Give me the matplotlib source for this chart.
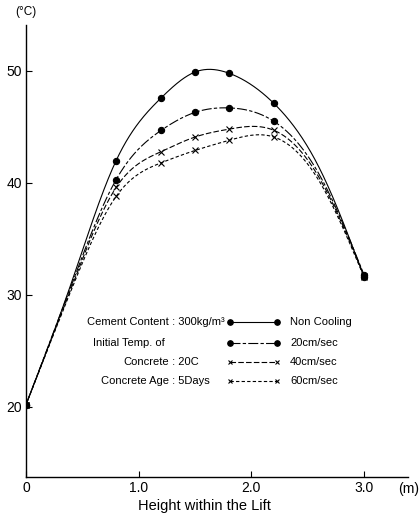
import numpy as np
import matplotlib
matplotlib.use("Agg")
import matplotlib.pyplot as plt
from matplotlib.lines import Line2D

# measured heights (m) and temperatures (deg C)
height = [0.0, 0.8, 1.2, 1.5, 1.8, 2.2, 3.0]
temp_non_cooling = [20.2, 42.0, 47.6, 49.9, 49.8, 47.1, 31.6]
temp_20cm = [20.2, 40.3, 44.7, 46.3, 46.7, 45.5, 31.8]
temp_40cm = [20.2, 39.6, 42.8, 44.1, 44.8, 44.7, 31.7]
temp_60cm = [20.2, 38.8, 41.8, 42.9, 43.8, 44.1, 31.6]

# extra points (no markers there)
shape_height = [0.4, 2.6]
shape_non_cooling = [31.0, 41.4]
shape_20cm = [30.8, 40.8]
shape_40cm = [30.6, 40.5]
shape_60cm = [30.4, 40.2]

series_labels = ["Non Cooling", "20cm/sec", "40cm/sec", "60cm/sec"]
notes = [("Cement Content", " : 300kg/m³"), ("Initial Temp. of", ""),
         ("Concrete", " : 20C"), ("Concrete Age", " : 5Days")]

plt.rcParams['font.family'] = ['Liberation Sans', 'DejaVu Sans']


def natural_spline(x, y, xs):
    # plain natural cubic spline, just to draw smooth curves through the readings
    x = np.asarray(x, float)
    y = np.asarray(y, float)
    n = len(x)
    h = np.diff(x)
    A = np.zeros((n, n))
    b = np.zeros(n)
    A[0, 0] = A[-1, -1] = 1.0
    for i in range(1, n - 1):
        A[i, i - 1] = h[i - 1]
        A[i, i] = 2 * (h[i - 1] + h[i])
        A[i, i + 1] = h[i]
        b[i] = 6 * ((y[i + 1] - y[i]) / h[i] - (y[i] - y[i - 1]) / h[i - 1])
    m = np.linalg.solve(A, b)
    idx = np.clip(np.searchsorted(x, xs) - 1, 0, n - 2)
    x0, x1 = x[idx], x[idx + 1]
    hh = x1 - x0
    t0, t1 = x1 - xs, xs - x0
    return (m[idx] * t0 ** 3 / (6 * hh) + m[idx + 1] * t1 ** 3 / (6 * hh)
            + (y[idx] / hh - m[idx] * hh / 6) * t0
            + (y[idx + 1] / hh - m[idx + 1] * hh / 6) * t1)


styles = [
    dict(ls='-', marker='o', ms=4.5, mew=0.8),
    dict(ls=(0, (9, 2, 3, 2)), marker='o', ms=4.5, mew=0.8),
    dict(ls=(0, (5, 2)), marker='x', ms=4, mew=0.8),
    dict(ls=(0, (3, 2)), marker='x', ms=4, mew=0.8),
]

fig = plt.figure(figsize=(4.19, 5.16), dpi=100)
ax = fig.add_axes([26 / 419, 1 - 477 / 516, (408 - 26) / 419, (477 - 25) / 516])

all_series = [(temp_non_cooling, shape_non_cooling), (temp_20cm, shape_20cm),
              (temp_40cm, shape_40cm), (temp_60cm, shape_60cm)]
xs = np.linspace(0, 3.0, 400)
for (vals, extra), st in zip(all_series, styles):
    kx = np.array(height + shape_height)
    ky = np.array(vals + extra)
    order = np.argsort(kx)
    ax.plot(xs, natural_spline(kx[order], ky[order], xs), color='black',
            lw=0.8, ls=st['ls'])
    ax.plot(height, vals, ls='none', color='black', marker=st['marker'],
            ms=st['ms'], mew=st['mew'])

ax.set_xlim(0, 3.39)
ax.set_ylim(13.75, 54.1)
for s in ['top', 'right']:
    ax.spines[s].set_visible(False)
for s in ['left', 'bottom']:
    ax.spines[s].set_linewidth(1.0)
ax.set_xticks([0, 1, 2, 3])
ax.set_xticklabels(['0', '1.0', '2.0', '3.0'])
ax.set_yticks([20, 30, 40, 50])
ax.tick_params(direction='in', length=4, width=0.8, labelsize=10, pad=3)
for lab in ax.get_xticklabels() + ax.get_yticklabels():
    lab.set_family(['Liberation Sans Narrow', 'Liberation Sans', 'DejaVu Sans'])

fig.text(398 / 419, 1 - 489 / 516, "(m)", fontsize=10, va='center', ha='left')
fig.text(26 / 419, 1 - 12 / 516, "(°C)", fontsize=8.5, va='center', ha='center')
fig.text(204 / 419, 1 - 506 / 516, "Height within the Lift", fontsize=10.5,
         ha='center', va='center')

# legend block, drawn by hand like the original
row_y = [322, 343, 362, 381]
for (left, right), ry in zip(notes, row_y):
    fy = 1 - ry / 516
    if right:
        fig.text(169 / 419, fy, left, fontsize=8, ha='right', va='center')
        fig.text(169 / 419, fy, right, fontsize=8, ha='left', va='center')
    else:
        fig.text(93 / 419, fy, left, fontsize=8, ha='left', va='center')
for ry, st, lab in zip(row_y, styles, series_labels):
    fy = 1 - ry / 516
    fig.add_artist(Line2D([230 / 419, 277 / 419], [fy, fy], color='black',
                          lw=0.8, ls=st['ls'], marker=st['marker'],
                          ms=st['ms'] - 0.5, mew=st['mew']))
    fig.text(290 / 419, fy, lab, fontsize=8, ha='left', va='center')

fig.savefig("out.png", dpi=100)
